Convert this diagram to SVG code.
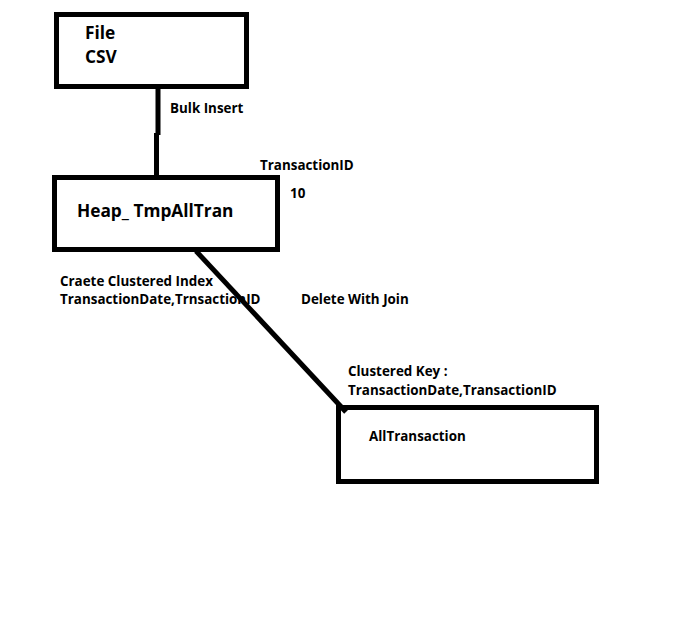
<svg xmlns="http://www.w3.org/2000/svg" width="696" height="625" viewBox="0 0 696 625">
<style>
.box{fill:none;stroke:#000;stroke-width:5}
.big{font-family:"Open Sans","Noto Sans",sans-serif;font-weight:bold;font-size:17.3px;fill:#000}
.lbl{font-family:"Open Sans","Noto Sans",sans-serif;font-weight:bold;font-size:13.4px;fill:#000}
.con{fill:none;stroke:#000;stroke-width:5}
</style>
<rect width="696" height="625" fill="#fff"/>
<g id="connectors">
<path class="con" d="M158,87 V135 M156.5,133 V180"/>
<path class="con" stroke-width="4.5" d="M196,251 L346,412"/>
<text class="lbl" x="170" y="113">Bulk Insert</text>
<text class="lbl" x="260" y="170">TransactionID</text>
<text class="lbl" x="290" y="198">10</text>
<text class="lbl" x="60" y="286">Craete Clustered Index</text>
<text class="lbl" x="60" y="304">TransactionDate,TrnsactionID</text>
<text class="lbl" x="301" y="304">Delete With Join</text>
</g>
<g id="file">
<rect class="box" x="56.5" y="14.5" width="190" height="72"/>
<text class="big" x="85" y="39">File</text>
<text class="big" x="85" y="63">CSV</text>
</g>
<g id="heap">
<rect class="box" x="54.5" y="177.5" width="223" height="72"/>
<text class="big" x="77" y="217">Heap_ TmpAllTran</text>
</g>
<g id="alltransaction">
<rect class="box" x="338.5" y="407.5" width="258" height="74"/>
<text class="lbl" x="348" y="376">Clustered Key :</text>
<text class="lbl" x="348" y="395">TransactionDate,TransactionID</text>
<text class="lbl" x="369" y="441" font-weight="600">AllTransaction</text>
</g>
</svg>
